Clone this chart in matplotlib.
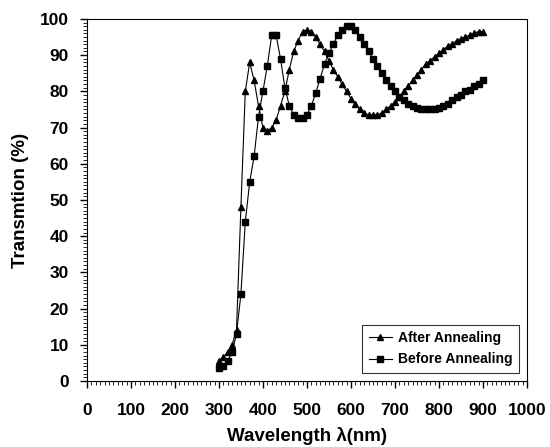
import numpy as np
import matplotlib.pyplot as plt
from matplotlib.ticker import MultipleLocator

# wavelength grid (nm)
wl = [300, 310, 320, 330, 340, 350, 360, 370, 380, 390,
      400, 410, 420, 430, 440, 450, 460, 470, 480, 490,
      500, 510, 520, 530, 540, 550, 560, 570, 580, 590,
      600, 610, 620, 630, 640, 650, 660, 670, 680, 690,
      700, 710, 720, 730, 740, 750, 760, 770, 780, 790,
      800, 810, 820, 830, 840, 850, 860, 870, 880, 890, 900]

# transmission after annealing (%)
after = [5.5, 6.5, 8, 10, 14, 48, 80, 88, 83, 76,
         70, 69, 70, 72, 76, 80, 86, 91, 94, 96.5,
         97, 96.5, 95, 93, 91, 88.5, 86, 84, 82, 80,
         78, 76.5, 75, 74, 73.5, 73.5, 73.5, 74, 75, 76,
         77, 78.5, 80, 81.5, 83, 84.5, 86, 87.5, 88.5, 89.5,
         90.5, 91.5, 92.5, 93, 94, 94.5, 95, 95.5, 96, 96.5, 96.5]

# transmission before annealing (%)
before = [3.5, 4, 5.5, 8, 13, 24, 44, 55, 62, 73,
          80, 87, 95.5, 95.5, 89, 81, 76, 73.5, 72.5, 72.5,
          73.5, 76, 79.5, 83.5, 87.5, 90.5, 93, 95.5, 97, 98,
          98, 97, 95, 93, 91, 89, 87, 85, 83, 81.5,
          80, 78.5, 77.5, 76.5, 76, 75.5, 75, 75, 75, 75,
          75.5, 76, 76.5, 77.5, 78.5, 79, 80, 80.5, 81.5, 82, 83]

plt.rcParams['font.family'] = ['Liberation Sans', 'DejaVu Sans']
plt.rcParams['font.weight'] = 'bold'

fig = plt.figure(figsize=(5.5, 4.47), dpi=100)
ax = fig.add_axes([0.158, 0.1477, 0.80, 0.81])

ax.plot(wl, after, color='k', lw=0.8, marker='^', ms=4.5, label='After Annealing')
ax.plot(wl, before, color='k', lw=0.8, marker='s', ms=4, label='Before Annealing')

ax.set_xlim(0, 1000)
ax.set_ylim(0, 100)
ax.xaxis.set_major_locator(MultipleLocator(100))
ax.xaxis.set_minor_locator(MultipleLocator(10))
ax.yaxis.set_major_locator(MultipleLocator(10))
ax.yaxis.set_minor_locator(MultipleLocator(1))
ax.tick_params(which='major', length=5, width=1, labelsize=12.5)
ax.tick_params(axis='x', which='major', pad=11)
ax.tick_params(axis='y', which='major', pad=8)
ax.tick_params(which='minor', length=3, width=0.6)
for lab in ax.get_xticklabels() + ax.get_yticklabels():
    lab.set_fontweight('bold')

ax.set_xlabel('Wavelength \u03bb(nm)', fontsize=13.5, fontweight='bold', labelpad=6)
ax.set_ylabel('Transmtion (%)', fontsize=13.5, fontweight='bold', labelpad=8)

leg = ax.legend(loc='lower right', fontsize=10, frameon=True, fancybox=False,
                edgecolor='k', handlelength=1.7, borderaxespad=0.6,
                labelspacing=0.55, handletextpad=0.4, borderpad=0.45)
leg.get_frame().set_linewidth(0.8)
for t in leg.get_texts():
    t.set_fontweight('bold')

fig.savefig('out.png', dpi=100)
